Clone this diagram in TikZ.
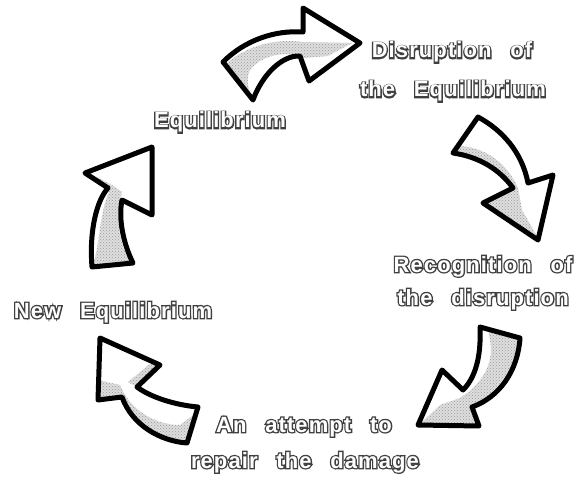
\documentclass[tikz,border=0pt]{standalone}
\usepackage{fontspec}
\usetikzlibrary{patterns}
\newfontfamily\rimfont{Liberation Sans Bold}[FakeBold=12,LetterSpace=5,WordSpace=2.6]
\newfontfamily\facefont{Liberation Sans Bold}[LetterSpace=5,WordSpace=2.6]
\newcommand\rim[1]{\rlap{\color{black!75}\rimfont #1}{\color{white}\facefont #1}}
\tikzset{
	label text/.style={anchor=base, inner sep=0pt, font=\fontsize{22}{24}\selectfont},
	arrow rim/.style={draw=black, line width=5pt, line join=round},
	arrow face/.style={fill=white},
	shadow band/.style={fill=black!13, postaction={pattern=crosshatch dots, pattern color=black!40}},
}
\newcommand\arrowtop{(223,62) .. controls (245,40) and (275,30) .. (303,32) -- (303,8) -- (360,43) -- (309,81) -- (300,56) .. controls (282,55) and (262,75) .. (253,100) -- cycle}
\newcommand\arrowright{(478,117) .. controls (502,130) and (522,152) .. (528,183) -- (553,175) -- (538,240) -- (483,203) -- (513,188) .. controls (500,170) and (480,157) .. (453,153) -- cycle}
\newcommand\arrowlow{(480,327) .. controls (481,350) and (478,375) .. (463,390) -- (442,370) -- (418,425) -- (479,426) -- (472,407) .. controls (500,397) and (518,370) .. (520,338) -- cycle}
\newcommand\arrowbottom{(100,338) -- (160,365) -- (137,387) .. controls (150,397) and (175,405) .. (198,407) -- (187,443) .. controls (160,441) and (132,425) .. (122,397) -- (98,400) -- cycle}
\newcommand\arrowleft{(152,147) -- (85,173) -- (108,188) .. controls (97,200) and (89,230) .. (92,267) -- (133,263) .. controls (124,245) and (118,220) .. (122,200) -- (152,215) -- cycle}

\begin{document}
\begin{tikzpicture}[x=1pt, y=-1pt]
	\path[use as bounding box, fill=white] (0,0) rectangle (578,481);

	\fill[arrow face] \arrowtop;
	\begin{scope}
		\clip \arrowtop;
		\path[shadow band] (226,64) .. controls (246,46) and (275,38) .. (303,42) -- (352,43) -- (328,56) -- (304,58)
			.. controls (285,50) and (262,55) .. (250,70) .. controls (246,78) and (248,88) .. (252,99) -- (220,62) -- cycle;
	\end{scope}
	\draw[arrow rim] \arrowtop;

	\fill[arrow face] \arrowright;
	\begin{scope}
		\clip \arrowright;
		\path[shadow band] (457,146) .. controls (483,146) and (507,162) .. (518,188) -- (522,210) -- (538,238) -- (510,218)
			-- (486,203) -- (513,188) .. controls (500,170) and (480,157) .. (450,153) -- cycle;
	\end{scope}
	\draw[arrow rim] \arrowright;

	\fill[arrow face] \arrowlow;
	\begin{scope}
		\clip \arrowlow;
		\path[shadow band] (488,330) -- (522,338) .. controls (515,365) and (500,390) .. (475,405) -- (480,428) -- (416,428)
			-- (440,405) -- (460,398) .. controls (480,385) and (495,365) .. (490,340) -- cycle;
	\end{scope}
	\draw[arrow rim] \arrowlow;

	\fill[arrow face] \arrowbottom;
	\begin{scope}
		\clip \arrowbottom;
		\path[shadow band] (98,380) -- (120,385) .. controls (130,410) and (155,425) .. (180,425) -- (200,410) -- (188,446)
			.. controls (160,444) and (132,428) .. (120,399) -- (96,402) -- cycle;
		\path[shadow band] (160,365) -- (137,387) -- (128,382) -- (150,364) -- cycle;
	\end{scope}
	\draw[arrow rim] \arrowbottom;

	\fill[arrow face] \arrowleft;
	\begin{scope}
		\clip \arrowleft;
		\path[shadow band] (94,262) .. controls (100,240) and (100,210) .. (110,190) -- (95,176) -- (112,185) -- (122,192)
			.. controls (115,215) and (118,240) .. (130,262) -- (132,268) -- (90,270) -- cycle;
	\end{scope}
	\draw[arrow rim] \arrowleft;

	\node[label text] (equilibrium) at (220,128) {\rim{Equilibrium}};
	\node[label text] (disruption) at (452,58) {\rim{Disruption of}};
	\node[label text] (disruption2) at (453,97) {\rim{the Equilibrium}};
	\node[label text] (recognition) at (483,272) {\rim{Recognition of}};
	\node[label text] (recognition2) at (483,305) {\rim{the disruption}};
	\node[label text] (attempt) at (304,432) {\rim{An attempt to}};
	\node[label text] (attempt2) at (305,468) {\rim{repair the damage}};
	\node[label text] (newequilibrium) at (113,318) {\rim{New Equilibrium}};
\end{tikzpicture}
\end{document}
